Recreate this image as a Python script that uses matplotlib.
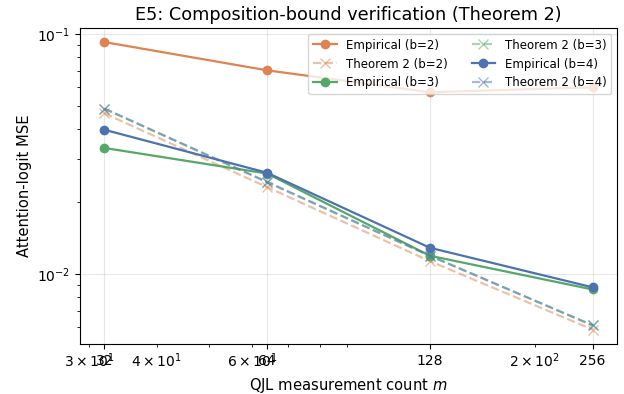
import matplotlib
matplotlib.use("Agg")
import matplotlib.pyplot as plt

m = [32, 64, 128, 256]

emp_b2 = [0.0926, 0.0706, 0.0572, 0.0600]
emp_b3 = [0.0335, 0.0262, 0.0119, 0.00861]
emp_b4 = [0.0399, 0.0264, 0.01285, 0.00879]

thm_b2 = [0.0467, 0.0230, 0.0113, 0.00586]
thm_b3 = [0.0488, 0.0241, 0.0119, 0.0061]
thm_b4 = [0.0489, 0.0242, 0.0119, 0.0061]

colors = {2: "#DD8452", 3: "#55A868", 4: "#4C72B0"}

fig = plt.figure(figsize=(6.24, 3.94), dpi=100)
ax = fig.add_axes([80/624, 1 - 344/394, (617 - 80)/624, (344 - 28)/394])

for b, emp, thm in [(2, emp_b2, thm_b2), (3, emp_b3, thm_b3), (4, emp_b4, thm_b4)]:
    ax.plot(m, emp, "-o", color=colors[b], lw=1.6, ms=6, label=f"Empirical (b={b})")
    ax.plot(m, thm, "--x", color=colors[b], lw=1.6, ms=7, alpha=0.5, label=f"Theorem 2 (b={b})")

ax.set_xscale("log")
ax.set_yscale("log")
ax.set_xticks(m)
ax.set_xticklabels([str(v) for v in m])
ax.set_ylim(0.0051, 0.106)
ax.grid(True, alpha=0.3)
ax.set_xlabel("QJL measurement count $m$", fontsize=10.6)
ax.set_ylabel("Attention-logit MSE", fontsize=10.6)
ax.set_title("E5: Composition-bound verification (Theorem 2)", fontsize=12.7)
ax.legend(ncol=2, fontsize=8.5, loc="upper right")

fig.savefig("out.png", dpi=100)
